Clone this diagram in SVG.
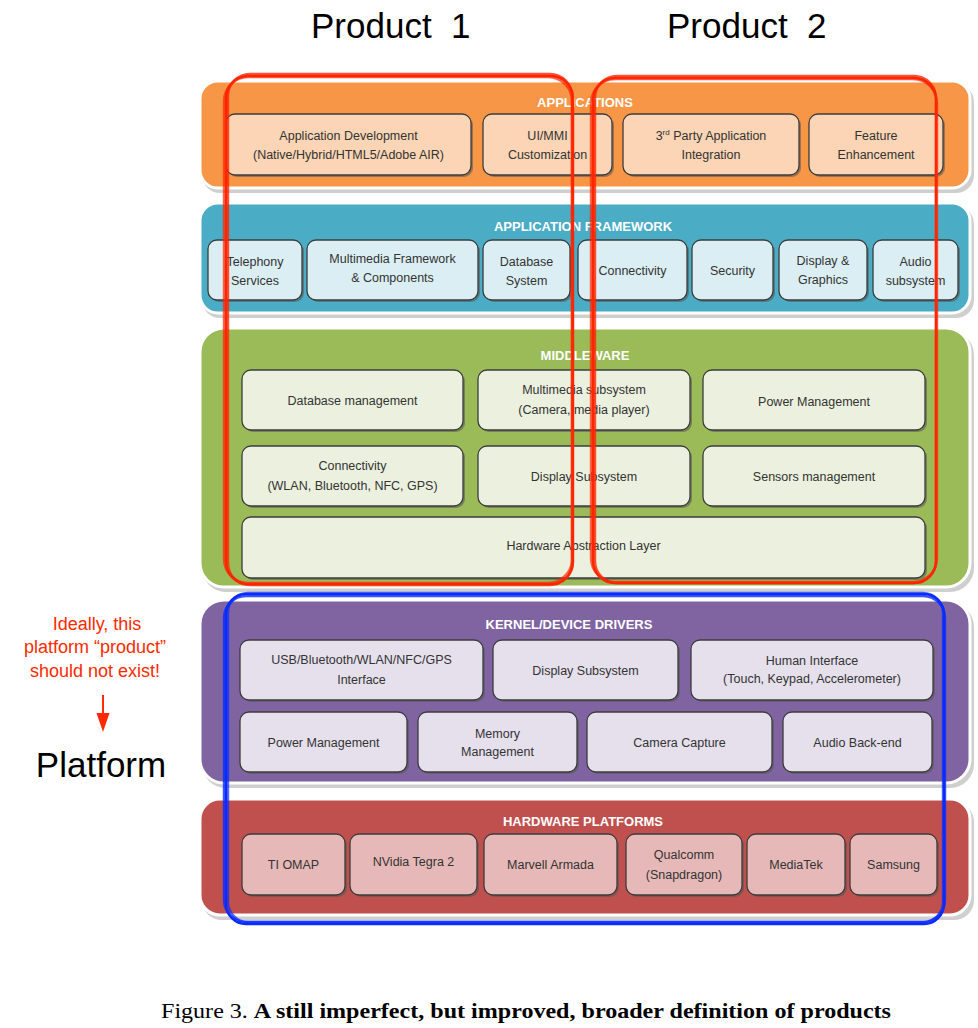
<svg xmlns="http://www.w3.org/2000/svg" width="978" height="1028" viewBox="0 0 978 1028">
<style>
.ttl{font-family:"Liberation Sans",Arial,sans-serif;font-size:35px;fill:#000;white-space:pre}
.lt{font-family:"Liberation Sans",Arial,sans-serif;font-size:13px;font-weight:bold;fill:#fff;text-anchor:middle}
.bt{font-family:"Liberation Sans",Arial,sans-serif;font-size:12.5px;fill:#333;text-anchor:middle}
.sh{fill:#cfcfcf}
.bx{stroke:#3c3c3c;stroke-width:1.3}
.bs{fill:#555;opacity:0.55}
.lay{stroke:#fff;stroke-width:3}
.rd{fill:none;stroke:#ff2600;stroke-width:2.4}
.bl{fill:none;stroke:#0a2cff;stroke-width:2.4}
.note{font-family:"Liberation Sans",Arial,sans-serif;font-size:18px;fill:#ff2a00;text-anchor:middle}
</style>
<rect width="978" height="1028" fill="#fff"/>

<text class="ttl" x="311" y="38">Product  1</text>
<text class="ttl" x="667" y="38">Product  2</text>

<!-- Applications layer -->
<g id="applications">
<rect class="sh" x="202" y="84" width="772" height="109" rx="18"/>
<rect class="lay" x="200" y="81" width="770" height="107" rx="18" fill="#F79646"/>
<text class="lt" x="585" y="107">APPLICATIONS</text>
</g>
<g id="app-dev"><rect class="bs" x="228" y="116" width="245" height="61" rx="9"/><rect class="bx" x="226" y="114" width="245" height="61" rx="9" fill="#FBD5B5"/><text class="bt" x="348.5" y="140">Application Development</text><text class="bt" x="348.5" y="159">(Native/Hybrid/HTML5/Adobe AIR)</text></g>
<g id="ui-mmi"><rect class="bs" x="485" y="116" width="129" height="61" rx="9"/><rect class="bx" x="483" y="114" width="129" height="61" rx="9" fill="#FBD5B5"/><text class="bt" x="547.5" y="140">UI/MMI</text><text class="bt" x="547.5" y="159">Customization</text></g>
<g id="third-party"><rect class="bs" x="625" y="116" width="176" height="61" rx="9"/><rect class="bx" x="623" y="114" width="176" height="61" rx="9" fill="#FBD5B5"/><text class="bt" x="711" y="140">3<tspan font-size="8" dy="-5">rd</tspan><tspan dy="5"> Party Application</tspan></text><text class="bt" x="711" y="159">Integration</text></g>
<g id="feature"><rect class="bs" x="811" y="116" width="134" height="61" rx="9"/><rect class="bx" x="809" y="114" width="134" height="61" rx="9" fill="#FBD5B5"/><text class="bt" x="876" y="140">Feature</text><text class="bt" x="876" y="159">Enhancement</text></g>

<!-- Application framework layer -->
<g id="app-framework">
<rect class="sh" x="202" y="206" width="772" height="112" rx="18"/>
<rect class="lay" x="200" y="203" width="770" height="110" rx="18" fill="#4BACC6"/>
<text class="lt" x="583" y="231">APPLICATION FRAMEWORK</text>
</g>
<g id="telephony"><rect class="bs" x="210" y="242" width="94" height="60" rx="9"/><rect class="bx" x="208" y="240" width="94" height="60" rx="9" fill="#DBEEF4"/><text class="bt" x="255" y="266">Telephony</text><text class="bt" x="255" y="285">Services</text></g>
<g id="mm-framework"><rect class="bs" x="309" y="242" width="171" height="60" rx="9"/><rect class="bx" x="307" y="240" width="171" height="60" rx="9" fill="#DBEEF4"/><text class="bt" x="392.5" y="263">Multimedia Framework</text><text class="bt" x="392.5" y="282">&amp; Components</text></g>
<g id="database-system"><rect class="bs" x="485" y="242" width="87" height="60" rx="9"/><rect class="bx" x="483" y="240" width="87" height="60" rx="9" fill="#DBEEF4"/><text class="bt" x="526.5" y="266">Database</text><text class="bt" x="526.5" y="285">System</text></g>
<g id="fw-connectivity"><rect class="bs" x="580" y="242" width="109" height="60" rx="9"/><rect class="bx" x="578" y="240" width="109" height="60" rx="9" fill="#DBEEF4"/><text class="bt" x="632.5" y="275">Connectivity</text></g>
<g id="security"><rect class="bs" x="694" y="242" width="81" height="60" rx="9"/><rect class="bx" x="692" y="240" width="81" height="60" rx="9" fill="#DBEEF4"/><text class="bt" x="732.5" y="275">Security</text></g>
<g id="display-graphics"><rect class="bs" x="781" y="242" width="88" height="60" rx="9"/><rect class="bx" x="779" y="240" width="88" height="60" rx="9" fill="#DBEEF4"/><text class="bt" x="823" y="265">Display &amp;</text><text class="bt" x="823" y="284">Graphics</text></g>
<g id="audio-subsystem"><rect class="bs" x="875" y="242" width="85" height="60" rx="9"/><rect class="bx" x="873" y="240" width="85" height="60" rx="9" fill="#DBEEF4"/><text class="bt" x="915.5" y="266">Audio</text><text class="bt" x="915.5" y="285">subsystem</text></g>

<!-- Middleware layer -->
<g id="middleware">
<rect class="sh" x="202" y="331" width="772" height="261" rx="24"/>
<rect class="lay" x="200" y="328" width="770" height="259" rx="24" fill="#9BBB59"/>
<text class="lt" x="585" y="360">MIDDLEWARE</text>
</g>
<g id="db-mgmt"><rect class="bs" x="244" y="372" width="221" height="60" rx="9"/><rect class="bx" x="242" y="370" width="221" height="60" rx="9" fill="#EBF1DE"/><text class="bt" x="352.5" y="405">Database management</text></g>
<g id="mm-subsystem"><rect class="bs" x="480" y="372" width="212" height="60" rx="9"/><rect class="bx" x="478" y="370" width="212" height="60" rx="9" fill="#EBF1DE"/><text class="bt" x="584" y="394">Multimedia subsystem</text><text class="bt" x="584" y="414">(Camera, media player)</text></g>
<g id="mw-power"><rect class="bs" x="705" y="372" width="222" height="60" rx="9"/><rect class="bx" x="703" y="370" width="222" height="60" rx="9" fill="#EBF1DE"/><text class="bt" x="814" y="406">Power Management</text></g>
<g id="mw-connectivity"><rect class="bs" x="244" y="448" width="221" height="60" rx="9"/><rect class="bx" x="242" y="446" width="221" height="60" rx="9" fill="#EBF1DE"/><text class="bt" x="352.5" y="470">Connectivity</text><text class="bt" x="352.5" y="490">(WLAN, Bluetooth, NFC, GPS)</text></g>
<g id="mw-display"><rect class="bs" x="480" y="448" width="212" height="60" rx="9"/><rect class="bx" x="478" y="446" width="212" height="60" rx="9" fill="#EBF1DE"/><text class="bt" x="584" y="481">Display Subsystem</text></g>
<g id="sensors"><rect class="bs" x="705" y="448" width="222" height="60" rx="9"/><rect class="bx" x="703" y="446" width="222" height="60" rx="9" fill="#EBF1DE"/><text class="bt" x="814" y="481">Sensors management</text></g>
<g id="hal"><rect class="bs" x="244" y="519" width="683" height="61" rx="9"/><rect class="bx" x="242" y="517" width="683" height="61" rx="9" fill="#EBF1DE"/><text class="bt" x="583.5" y="550">Hardware Abstraction Layer</text></g>

<!-- Kernel layer -->
<g id="kernel">
<rect class="sh" x="202" y="603" width="772" height="185" rx="24"/>
<rect class="lay" x="200" y="600" width="770" height="183" rx="24" fill="#8064A2"/>
<text class="lt" x="569" y="629">KERNEL/DEVICE DRIVERS</text>
</g>
<g id="usb-interface"><rect class="bs" x="242" y="642" width="243" height="60" rx="9"/><rect class="bx" x="240" y="640" width="243" height="60" rx="9" fill="#E5E0EC"/><text class="bt" x="361.5" y="664">USB/Bluetooth/WLAN/NFC/GPS</text><text class="bt" x="361.5" y="684">Interface</text></g>
<g id="k-display"><rect class="bs" x="495" y="642" width="185" height="60" rx="9"/><rect class="bx" x="493" y="640" width="185" height="60" rx="9" fill="#E5E0EC"/><text class="bt" x="585.5" y="675">Display Subsystem</text></g>
<g id="human-interface"><rect class="bs" x="693" y="642" width="242" height="60" rx="9"/><rect class="bx" x="691" y="640" width="242" height="60" rx="9" fill="#E5E0EC"/><text class="bt" x="812" y="665">Human Interface</text><text class="bt" x="812" y="683">(Touch, Keypad, Accelerometer)</text></g>
<g id="k-power"><rect class="bs" x="242" y="714" width="167" height="60" rx="9"/><rect class="bx" x="240" y="712" width="167" height="60" rx="9" fill="#E5E0EC"/><text class="bt" x="323.5" y="747">Power Management</text></g>
<g id="memory"><rect class="bs" x="420" y="714" width="159" height="60" rx="9"/><rect class="bx" x="418" y="712" width="159" height="60" rx="9" fill="#E5E0EC"/><text class="bt" x="497.5" y="738">Memory</text><text class="bt" x="497.5" y="756">Management</text></g>
<g id="camera"><rect class="bs" x="589" y="714" width="185" height="60" rx="9"/><rect class="bx" x="587" y="712" width="185" height="60" rx="9" fill="#E5E0EC"/><text class="bt" x="679.5" y="747">Camera Capture</text></g>
<g id="audio-backend"><rect class="bs" x="785" y="714" width="149" height="60" rx="9"/><rect class="bx" x="783" y="712" width="149" height="60" rx="9" fill="#E5E0EC"/><text class="bt" x="857.5" y="747">Audio Back-end</text></g>

<!-- Hardware layer -->
<g id="hardware">
<rect class="sh" x="202" y="802" width="772" height="118" rx="20"/>
<rect class="lay" x="200" y="799" width="770" height="116" rx="20" fill="#C0504D"/>
<text class="lt" x="583" y="826">HARDWARE PLATFORMS</text>
</g>
<g id="ti-omap"><rect class="bs" x="244" y="836" width="103" height="61" rx="9"/><rect class="bx" x="242" y="834" width="103" height="61" rx="9" fill="#E6B9B8"/><text class="bt" x="293.5" y="869">TI OMAP</text></g>
<g id="nvidia"><rect class="bs" x="352" y="836" width="127" height="61" rx="9"/><rect class="bx" x="350" y="834" width="127" height="61" rx="9" fill="#E6B9B8"/><text class="bt" x="413.5" y="866">NVidia Tegra 2</text></g>
<g id="marvell"><rect class="bs" x="486" y="836" width="133" height="61" rx="9"/><rect class="bx" x="484" y="834" width="133" height="61" rx="9" fill="#E6B9B8"/><text class="bt" x="550.5" y="869">Marvell Armada</text></g>
<g id="qualcomm"><rect class="bs" x="628" y="836" width="116" height="61" rx="9"/><rect class="bx" x="626" y="834" width="116" height="61" rx="9" fill="#E6B9B8"/><text class="bt" x="684" y="859">Qualcomm</text><text class="bt" x="684" y="879">(Snapdragon)</text></g>
<g id="mediatek"><rect class="bs" x="749" y="836" width="98" height="61" rx="9"/><rect class="bx" x="747" y="834" width="98" height="61" rx="9" fill="#E6B9B8"/><text class="bt" x="796" y="869">MediaTek</text></g>
<g id="samsung"><rect class="bs" x="852" y="836" width="87" height="61" rx="9"/><rect class="bx" x="850" y="834" width="87" height="61" rx="9" fill="#E6B9B8"/><text class="bt" x="893.5" y="869">Samsung</text></g>

<!-- Hand-drawn groupings -->
<g id="product1">
<rect class="rd" x="226" y="76" width="347" height="508" rx="22"/>
<rect class="rd" x="228" y="74" width="344" height="511" rx="22" stroke-width="1.6" opacity="0.8"/>
<rect class="rd" x="224" y="77" width="348" height="506" rx="24" stroke-width="1.2" opacity="0.7"/>
</g>
<g id="product2">
<rect class="rd" x="593" y="78" width="343" height="505" rx="22"/>
<rect class="rd" x="595" y="76" width="341" height="507" rx="22" stroke-width="1.6" opacity="0.8"/>
<rect class="rd" x="591" y="79" width="346" height="503" rx="24" stroke-width="1.2" opacity="0.7"/>
</g>
<g id="platform-outline">
<rect class="bl" x="226" y="594" width="718" height="330" rx="20"/>
<rect class="bl" x="224" y="596" width="721" height="326" rx="22" stroke-width="1.4" opacity="0.8"/>
<rect class="bl" x="228" y="593" width="715" height="329" rx="20" stroke-width="1.1" opacity="0.7"/>
</g>

<!-- Left annotation -->
<g id="note">
<text class="note" x="97" y="630">Ideally, this</text>
<text class="note" x="95" y="653">platform “product”</text>
<text class="note" x="95" y="677">should not exist!</text>
</g>
<g id="connectors">
<line x1="103" y1="695" x2="103" y2="715" stroke="#ff2a00" stroke-width="2"/>
<polygon points="96.5,713 109.5,713 103,732" fill="#ff2a00"/>
</g>
<text class="ttl" x="101" y="777" text-anchor="middle">Platform</text>

<text x="161" y="1018" font-family="Liberation Serif,'Times New Roman',serif" font-size="21" fill="#000" textLength="730" lengthAdjust="spacingAndGlyphs">Figure 3. <tspan font-weight="bold">A still imperfect, but improved, broader definition of products</tspan></text>
</svg>
